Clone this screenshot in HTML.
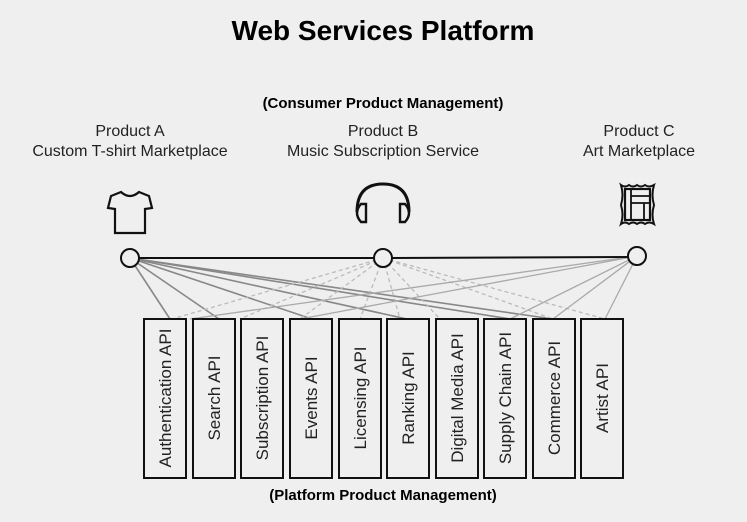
<!DOCTYPE html>
<html><head><style>
body{margin:0;background:#efefef;width:747px;height:517px;overflow:hidden;font-family:"Liberation Sans",Arial,sans-serif;}
</style></head><body>
<svg width="747" height="517" xmlns="http://www.w3.org/2000/svg" font-family="Liberation Sans, Arial, sans-serif">
<rect width="747" height="517" fill="#efefef"/>
<text x="383" y="40" text-anchor="middle" font-size="28" font-weight="bold" fill="#000">Web Services Platform</text>
<text x="383" y="108" text-anchor="middle" font-size="15" font-weight="bold" fill="#000">(Consumer Product Management)</text>
<g font-size="16" fill="#222" text-anchor="middle">
<text x="130" y="136">Product A</text><text x="130" y="156">Custom T-shirt Marketplace</text>
<text x="383" y="136">Product B</text><text x="383" y="156">Music Subscription Service</text>
<text x="639" y="136">Product C</text><text x="639" y="156">Art Marketplace</text>
</g>
<!-- icons -->
<path d="M121 192 L111 196 L108 208 L115 209 L115 233 L145 233 L145 209 L152 208 L149 196 L139 192 Q130 200 121 192 Z" fill="none" stroke="#111" stroke-width="2.2"/>
<path d="M357 212 Q357 184 383 184 Q409 184 409 212" fill="none" stroke="#111" stroke-width="3"/>
<path d="M361 204 L366 204 L366 222 L361 222 Q353 213 361 204 Z" fill="none" stroke="#111" stroke-width="2.4"/>
<path d="M405 204 L400 204 L400 222 L405 222 Q413 213 405 204 Z" fill="none" stroke="#111" stroke-width="2.4"/>
<path d="M621 185 Q625 188 629 185 Q633 188 637 185 Q641 188 645 185 Q649 188 654 185 Q651 195 654 205 Q651 215 654 224 Q649 221 645 224 Q641 221 637 224 Q633 221 629 224 Q625 221 621 224 Q624 215 621 205 Q624 195 621 185 Z" fill="none" stroke="#111" stroke-width="2"/>
<rect x="625" y="189" width="25" height="31" fill="none" stroke="#111" stroke-width="2.2"/>
<path d="M631 189 V220 M631 196 H650 M631 203 H650 M644 203 V220" stroke="#111" stroke-width="1.8" fill="none"/>
<!-- connectors -->
<g stroke="#888" stroke-width="1.6">
<line x1="130" y1="258" x2="170" y2="319"/><line x1="130" y1="258" x2="219" y2="319"/>
<line x1="130" y1="258" x2="312" y2="319"/><line x1="130" y1="258" x2="407" y2="319"/>
<line x1="130" y1="258" x2="510" y2="319"/><line x1="130" y1="258" x2="553" y2="319"/>
</g>
<g stroke="#bbb" stroke-width="1.3" stroke-dasharray="4,3">
<line x1="383" y1="258" x2="172" y2="319"/><line x1="383" y1="258" x2="240" y2="319"/>
<line x1="383" y1="258" x2="300" y2="319"/><line x1="383" y1="258" x2="360" y2="319"/>
<line x1="383" y1="258" x2="400" y2="319"/><line x1="383" y1="258" x2="440" y2="319"/>
<line x1="383" y1="258" x2="553" y2="319"/><line x1="383" y1="258" x2="605" y2="319"/>
</g>
<g stroke="#aaa" stroke-width="1.3">
<line x1="637" y1="256" x2="190" y2="319"/><line x1="637" y1="256" x2="300" y2="319"/>
<line x1="637" y1="256" x2="510" y2="319"/><line x1="637" y1="256" x2="553" y2="319"/>
<line x1="637" y1="256" x2="605" y2="319"/>
</g>
<line x1="139" y1="258" x2="374" y2="258" stroke="#111" stroke-width="2"/>
<line x1="392" y1="258" x2="628" y2="257" stroke="#111" stroke-width="2"/>
<g fill="#efefef" stroke="#111" stroke-width="2">
<circle cx="130" cy="258" r="9"/><circle cx="383" cy="258" r="9"/><circle cx="637" cy="256" r="9"/>
</g>
<!-- boxes -->
<g fill="none" stroke="#111" stroke-width="2">
<rect x="144" y="319" width="42" height="159"/><rect x="193" y="319" width="42" height="159"/>
<rect x="241" y="319" width="42" height="159"/><rect x="290" y="319" width="42" height="159"/>
<rect x="339" y="319" width="42" height="159"/><rect x="387" y="319" width="42" height="159"/>
<rect x="436" y="319" width="42" height="159"/><rect x="484" y="319" width="42" height="159"/>
<rect x="533" y="319" width="42" height="159"/><rect x="581" y="319" width="42" height="159"/>
</g>
<g font-size="17" fill="#222" text-anchor="middle">
<text transform="translate(171,398) rotate(-90)">Authentication API</text>
<text transform="translate(220,398) rotate(-90)">Search API</text>
<text transform="translate(268,398) rotate(-90)">Subscription API</text>
<text transform="translate(317,398) rotate(-90)">Events API</text>
<text transform="translate(366,398) rotate(-90)">Licensing API</text>
<text transform="translate(414,398) rotate(-90)">Ranking API</text>
<text transform="translate(463,398) rotate(-90)">Digital Media API</text>
<text transform="translate(511,398) rotate(-90)">Supply Chain API</text>
<text transform="translate(560,398) rotate(-90)">Commerce API</text>
<text transform="translate(608,398) rotate(-90)">Artist API</text>
</g>
<text x="383" y="500" text-anchor="middle" font-size="15" font-weight="bold" fill="#000">(Platform Product Management)</text>
</svg>
</body></html>
